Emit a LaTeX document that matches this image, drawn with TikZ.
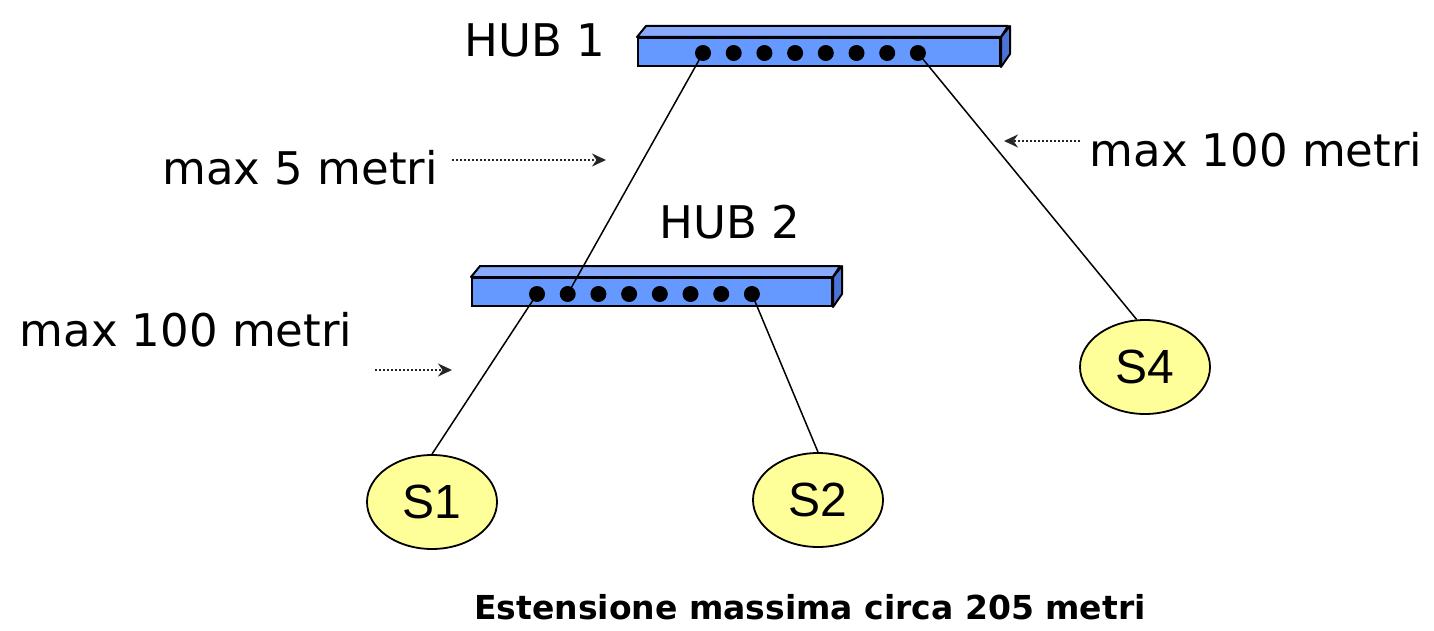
\documentclass[tikz,border=0pt]{standalone}
\usepackage{fontspec}
\setmainfont{DejaVu Sans}
\newfontfamily\sfont{Liberation Sans}
\usetikzlibrary{shapes.geometric,arrows.meta}
\definecolor{hubfront}{HTML}{6699FF}
\definecolor{hubtop}{HTML}{88AAFF}
\definecolor{hubside}{HTML}{4A74D8}
\definecolor{stfill}{HTML}{FFFF99}
\tikzset{
  hubbox/.style={draw=black, line width=2pt, fill=hubfront, minimum width=#1, minimum height=28pt, inner sep=0pt},
  hubface/.style={draw=black, line width=2pt, line join=round},
  port/.style={circle, fill=black, minimum size=16pt, inner sep=0pt},
  station/.style={ellipse, draw=black, line width=1.8pt, fill=stfill, minimum width=130pt, minimum height=94pt, inner sep=0pt, font=\sfont\fontsize{48}{48}\selectfont},
  label/.style={font=\fontsize{45}{45}\selectfont, inner sep=0pt},
  link/.style={draw=black, line width=1.5pt},
  hint/.style={draw=black!85, dotted, line width=2pt, -{Stealth[length=14pt,width=13pt]}}
}
\begin{document}
\begin{tikzpicture}[x=1pt,y=-1pt]
\useasboundingbox (0,0) rectangle (1434,631);
% HUB 1
\node[hubbox=362pt] (hub1) at (819,52) {};
\draw[hubface, fill=hubtop] (hub1.north west) -- ++(9,-11) -- ++(362,0) -- (hub1.north east) -- cycle;
\draw[hubface, fill=hubside] (hub1.north east) -- ++(9,-11) -- ++(0,28) -- (hub1.south east) -- cycle;
\foreach \i in {1,...,8} {
  \node[port] (h1d\i) at ({703+30.7*(\i-1)},53) {};
}
% HUB 2
\node[hubbox=360pt] (hub2) at (652,292) {};
\draw[hubface, fill=hubtop] (hub2.north west) -- ++(9,-11) -- ++(360,0) -- (hub2.north east) -- cycle;
\draw[hubface, fill=hubside] (hub2.north east) -- ++(9,-11) -- ++(0,28) -- (hub2.south east) -- cycle;
\foreach \i in {1,...,8} {
  \node[port] (h2d\i) at ({537+30.7*(\i-1)},294) {};
}
% stations
\node[station] (s1) at (432,502) {S1};
\node[station] (s2) at (818,500) {S2};
\node[station] (s4) at (1145,367) {S4};
% links
\draw[link] (h1d1.center) -- (h2d2.center);
\draw[link] (h1d8.center) -- (s4.100);
\draw[link] (h2d1.center) -- (s1.north);
\draw[link] (h2d8.center) -- (s2.north);
% labels
\node[label] (l1) at (535,40) {HUB 1};
\node[label] (l2) at (730,222) {HUB 2};
\node[label] (m5) at (300,168) {max 5 metri};
\node[label] (m100r) at (1256,150) {max 100 metri};
\node[label] (m100l) at (186,330) {max 100 metri};
\node[font=\bfseries\fontsize{33}{33}\selectfont, inner sep=0pt] (cap) at (810,607) {Estensione massima circa 205 metri};
% hint arrows
\coordinate (a1s) at (452,160); \coordinate (a1e) at (606,160);
\coordinate (a2s) at (375,370); \coordinate (a2e) at (452,370);
\coordinate (a3s) at (1080,141); \coordinate (a3e) at (1004,141);
\draw[hint] (a1s) -- (a1e);
\draw[hint] (a2s) -- (a2e);
\draw[hint] (a3s) -- (a3e);
\end{tikzpicture}
\end{document}
